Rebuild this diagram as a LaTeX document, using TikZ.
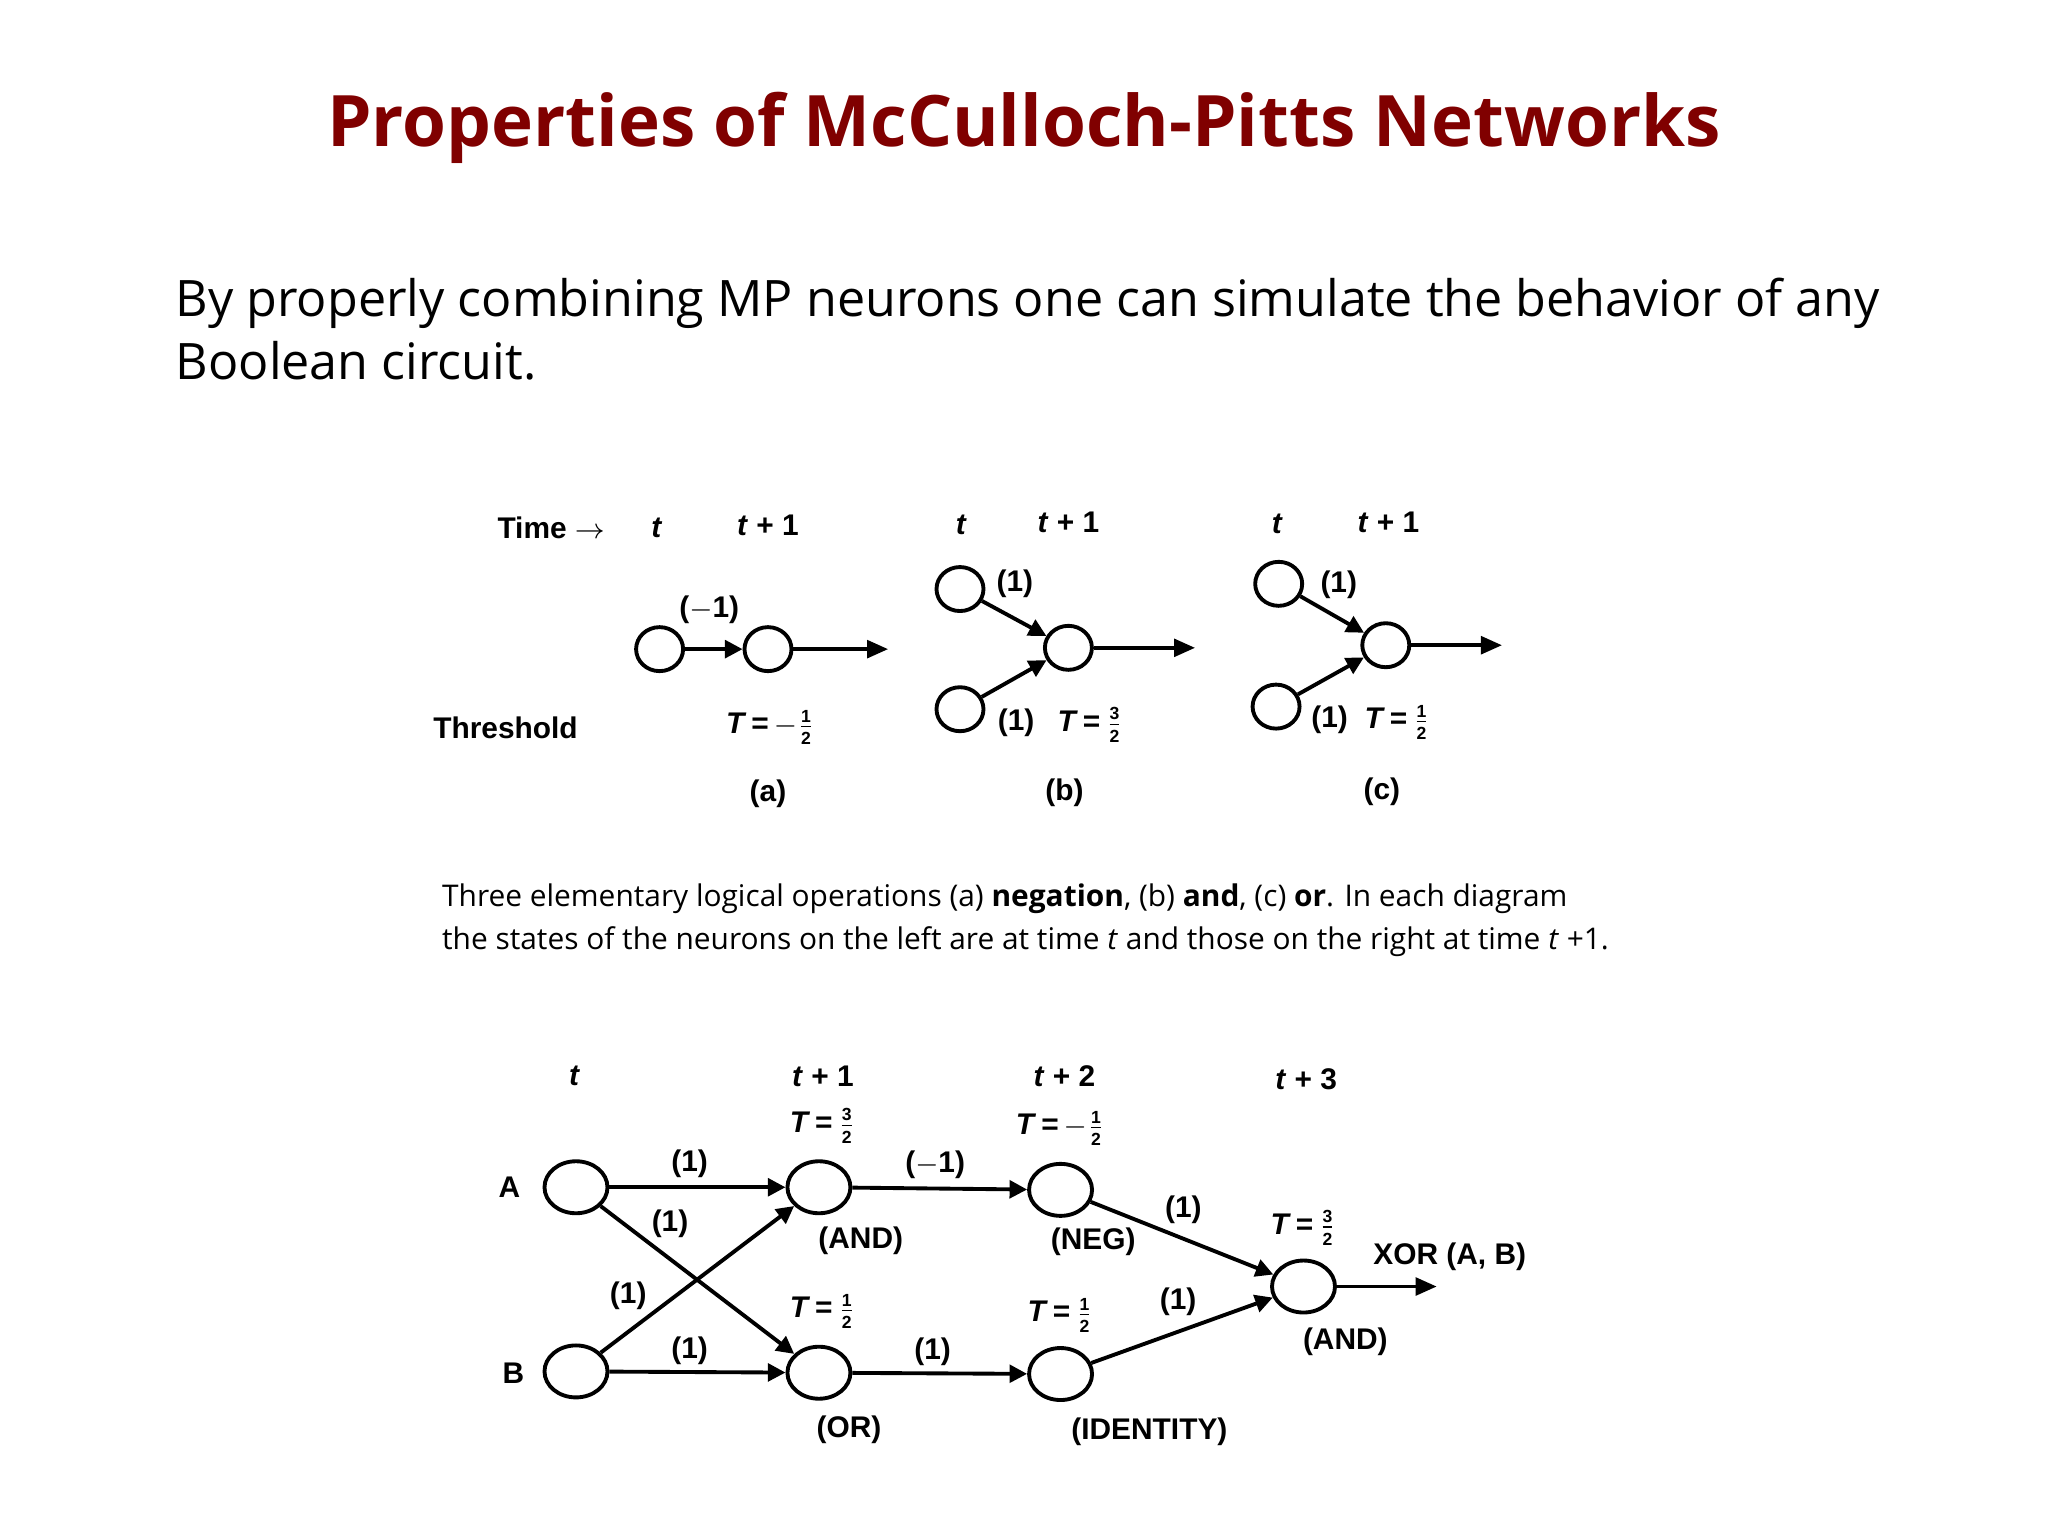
\documentclass[tikz,border=0pt]{standalone}
\usepackage{fontspec}
\setmainfont{Open Sans}
\newfontfamily\lab{Liberation Sans}
\usetikzlibrary{arrows.meta,shapes.geometric}
\definecolor{titlered}{RGB}{128,0,0}
\newcommand{\TT}[1]{\textit{T}\,=\,#1}
\newcommand{\fr}[2]{$\frac{\mbox{\tiny\lab\bfseries #1}}{\mbox{\tiny\lab\bfseries #2}}$}
\begin{document}
\begin{tikzpicture}[x=0.013061cm,y=-0.013061cm,
  neu/.style={draw,line width=1.1pt,ellipse,minimum width=0.47cm,minimum height=0.44cm,inner sep=0pt},
  bneu/.style={draw,line width=1.1pt,ellipse,minimum width=0.63cm,minimum height=0.52cm,inner sep=0pt},
  syn/.style={line width=1.1pt,-{Triangle[length=5pt,width=5pt]}},
  outa/.style={line width=1.1pt,-{Triangle[length=6pt,width=5pt]}},
  lb/.style={font=\lab\bfseries\fontsize{8.5}{10}\selectfont,inner sep=1pt}]
\useasboundingbox (0,0) rectangle (1568,1176);
\node[font=\bfseries\fontsize{20.2}{24}\selectfont,text=titlered] (title) at (784,98) {Properties of McCulloch-Pitts Networks};
\node[font=\fontsize{14.3}{18}\selectfont,anchor=north west,align=left,inner sep=0pt] (body) at (134,212) {By properly combining MP neurons one can simulate the behavior of any\\Boolean circuit.};
\node[font=\fontsize{8.5}{12.3}\selectfont,anchor=north west,align=left,inner sep=0pt] (cap) at (338,676) {Three elementary logical operations (a) \textbf{negation}, (b) \textbf{and}, (c) \textbf{or}. In each diagram\\the states of the neurons on the left are at time \textit{t} and those on the right at time \textit{t} +1.};
% (a)
\node[lb] (time) at (422,404) {Time $\rightarrow$};
\node[lb] (ta) at (503,404) {\textit{t}};
\node[lb] (ta1) at (588,402) {\textit{t} + 1};
\node[lb] (thr) at (387,557) {Threshold};
\node[neu] (a1) at (505,497) {};
\node[neu] (a2) at (588,497) {};
\coordinate (ao) at (680,497);
\draw[syn] (a1) -- (a2);
\draw[outa] (a2) -- (ao);
\node[lb] (wa) at (543,467) {($-$1)};
\node[lb] (Ta) at (590,557) {\TT{$-$\fr12}};
\node[lb] (la) at (588,608) {(a)};
% (b)
\node[lb] (tb) at (736,402) {\textit{t}};
\node[lb] (tb1) at (818,400) {\textit{t} + 1};
\node[neu] (b1) at (735,451) {};
\node[neu] (b2) at (735,543) {};
\node[neu] (b3) at (818,496) {};
\coordinate (bo) at (915,496);
\draw[syn] (b1) -- (b3);
\draw[syn] (b2) -- (b3);
\draw[outa] (b3) -- (bo);
\node[lb] (wb1) at (777,447) {(1)};
\node[lb] (wb2) at (778,553) {(1)};
\node[lb] (Tb) at (835,555) {\TT{\fr32}};
\node[lb] (lbb) at (815,607) {(b)};
% (c)
\node[lb] (tc) at (978,401) {\textit{t}};
\node[lb] (tc1) at (1063,400) {\textit{t} + 1};
\node[neu] (c1) at (979,447) {};
\node[neu] (c2) at (977,541) {};
\node[neu] (c3) at (1061,494) {};
\coordinate (co) at (1150,494);
\draw[syn] (c1) -- (c3);
\draw[syn] (c2) -- (c3);
\draw[outa] (c3) -- (co);
\node[lb] (wc1) at (1025,448) {(1)};
\node[lb] (wc2) at (1018,551) {(1)};
\node[lb] (Tc) at (1070,553) {\TT{\fr12}};
\node[lb] (lc) at (1058,606) {(c)};
% bottom
\node[lb] (t0) at (440,824) {\textit{t}};
\node[lb] (t1) at (630,824) {\textit{t} + 1};
\node[lb] (t2) at (815,824) {\textit{t} + 2};
\node[lb] (t3) at (1000,826) {\textit{t} + 3};
\node[lb] (la2) at (390,909) {A};
\node[lb] (lb2) at (393,1051) {B};
\node[bneu] (A) at (441,909) {};
\node[bneu] (B) at (441,1050) {};
\node[bneu] (AND1) at (627,909) {};
\node[bneu] (OR) at (627,1051) {};
\node[bneu] (NEG) at (812,911) {};
\node[bneu] (ID) at (812,1052) {};
\node[bneu] (AND2) at (998,985) {};
\coordinate (xo) at (1100,985);
\draw[syn] (A) -- (AND1);
\draw[syn] (B) -- (OR);
\draw[syn] (A) -- (OR);
\draw[syn] (B) -- (AND1);
\draw[syn] (AND1) -- (NEG);
\draw[syn] (OR) -- (ID);
\draw[syn] (NEG) -- (AND2);
\draw[syn] (ID) -- (AND2);
\draw[outa] (AND2) -- (xo);
\node[lb] (T1) at (630,862) {\TT{\fr32}};
\node[lb] (T2) at (812,864) {\TT{$-$\fr12}};
\node[lb] (T3) at (630,1004) {\TT{\fr12}};
\node[lb] (T4) at (812,1007) {\TT{\fr12}};
\node[lb] (T5) at (998,940) {\TT{\fr32}};
\node[lb] (n1) at (659,950) {(AND)};
\node[lb] (n2) at (837,951) {(NEG)};
\node[lb] (n3) at (650,1095) {(OR)};
\node[lb] (n4) at (880,1096) {(IDENTITY)};
\node[lb] (n5) at (1030,1027) {(AND)};
\node[lb] (xor) at (1110,962) {XOR (A, B)};
\node[lb] (w1) at (528,891) {(1)};
\node[lb] (w2) at (513,937) {(1)};
\node[lb] (w3) at (481,992) {(1)};
\node[lb] (w4) at (528,1034) {(1)};
\node[lb] (w5) at (716,892) {($-$1)};
\node[lb] (w6) at (906,926) {(1)};
\node[lb] (w7) at (902,997) {(1)};
\node[lb] (w8) at (714,1035) {(1)};
\end{tikzpicture}
\end{document}
